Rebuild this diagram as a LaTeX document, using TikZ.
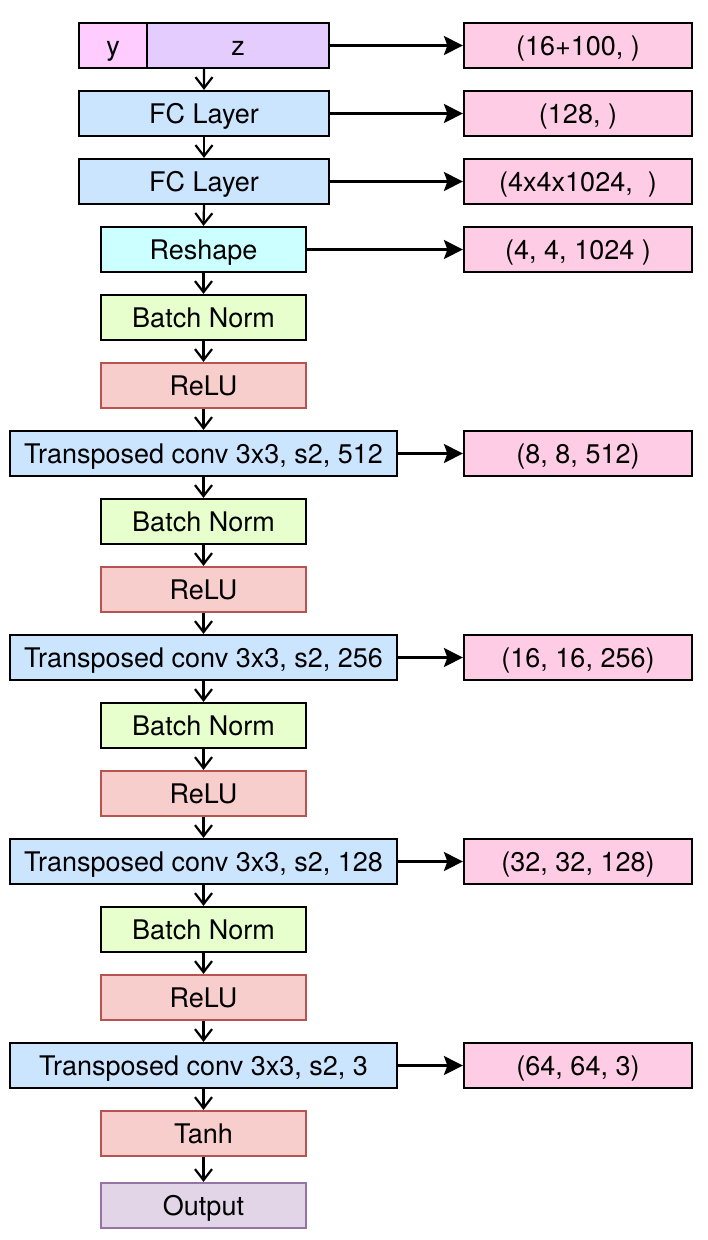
\documentclass[tikz,border=0pt]{standalone}
\usepackage{fontspec}
\setmainfont{TeX Gyre Heros}
\usetikzlibrary{arrows.meta,calc}
\definecolor{cy}{HTML}{FFCCFF}
\definecolor{cz}{HTML}{E5CCFF}
\definecolor{cout}{HTML}{FFCCE6}
\definecolor{cfc}{HTML}{CCE5FF}
\definecolor{cresh}{HTML}{CCFFFF}
\definecolor{cbn}{HTML}{E6FFCC}
\definecolor{crelu}{HTML}{F8CECC}
\definecolor{crelud}{HTML}{B85450}
\definecolor{coutp}{HTML}{E1D5E7}
\definecolor{coutpd}{HTML}{9673A6}
\tikzset{
  box/.style={draw=black,line width=2.2pt,inner sep=0pt,minimum height=45pt,text height=19.5pt,text depth=0pt,font=\fontsize{27}{30}\selectfont,text=black},
  fcbox/.style={box,fill=cfc,minimum width=250pt},
  tcbox/.style={box,fill=cfc,minimum width=387pt},
  smallbox/.style={box,minimum width=205pt},
  bnbox/.style={smallbox,fill=cbn},
  relubox/.style={smallbox,fill=crelu,draw=crelud},
  shapebox/.style={box,fill=cout,minimum width=228pt},
  down/.style={line width=2.2pt,-{Straight Barb[length=11pt,width=17pt,line width=2.2pt]}},
  side/.style={line width=2.2pt,-{Stealth[length=19pt,width=19pt,inset=3.5pt]}},
}
\begin{document}
\begin{tikzpicture}[x=1pt,y=1pt]
\useasboundingbox (0,0) rectangle (708,-1240);
% left column
\node[box,fill=cy,minimum width=68pt] (y) at (113,-45.5) {y};
\node[box,fill=cz,minimum width=182pt] (z) at (238,-45.5) {z};
\node[fcbox] (fc1) at (204,-113.5) {FC Layer};
\node[fcbox] (fc2) at (204,-181.5) {FC Layer};
\node[smallbox,fill=cresh] (resh) at (203.5,-249.5) {Reshape};
\node[bnbox] (bn1) at (203.5,-317.5) {Batch Norm};
\node[relubox] (relu1) at (203.5,-385.5) {ReLU};
\node[tcbox] (tc1) at (203.5,-453.5) {Transposed conv 3x3, s2, 512};
\node[bnbox] (bn2) at (203.5,-521.5) {Batch Norm};
\node[relubox] (relu2) at (203.5,-589.5) {ReLU};
\node[tcbox] (tc2) at (203.5,-657.5) {Transposed conv 3x3, s2, 256};
\node[bnbox] (bn3) at (203.5,-725.5) {Batch Norm};
\node[relubox] (relu3) at (203.5,-793.5) {ReLU};
\node[tcbox] (tc3) at (203.5,-861.5) {Transposed conv 3x3, s2, 128};
\node[bnbox] (bn4) at (203.5,-929.5) {Batch Norm};
\node[relubox] (relu4) at (203.5,-997.5) {ReLU};
\node[tcbox] (tc4) at (203.5,-1065.5) {Transposed conv 3x3, s2, 3};
\node[relubox] (tanh) at (203.5,-1133.5) {Tanh};
\node[smallbox,fill=coutp,draw=coutpd] (outp) at (203.5,-1205.5) {Output};
% right column
\node[shapebox] (s0) at (578,-45.5) {(16+100, )};
\node[shapebox] (s1) at (578,-113.5) {(128, )};
\node[shapebox] (s2) at (578,-181.5) {(4x4x1024,~ )};
\node[shapebox] (s3) at (578,-249.5) {(4, 4, 1024 )};
\node[shapebox] (s4) at (578,-453.5) {(8, 8, 512)};
\node[shapebox] (s5) at (578,-657.5) {(16, 16, 256)};
\node[shapebox] (s6) at (578,-861.5) {(32, 32, 128)};
\node[shapebox] (s7) at (578,-1065.5) {(64, 64, 3)};
% vertical arrows
\coordinate (yzb) at ($(y.south west)!0.5!(z.south east)$);
\draw[down] (yzb) -- (fc1.north);
\draw[down] (fc1) -- (fc2);
\draw[down] (fc2.south) -- (resh.north);
\draw[down] (resh) -- (bn1);
\draw[down] (bn1) -- (relu1);
\draw[down] (relu1) -- (tc1);
\draw[down] (tc1) -- (bn2);
\draw[down] (bn2) -- (relu2);
\draw[down] (relu2) -- (tc2);
\draw[down] (tc2) -- (bn3);
\draw[down] (bn3) -- (relu3);
\draw[down] (relu3) -- (tc3);
\draw[down] (tc3) -- (bn4);
\draw[down] (bn4) -- (relu4);
\draw[down] (relu4) -- (tc4);
\draw[down] (tc4) -- (tanh);
\draw[down] (tanh) -- (outp);
% side arrows
\draw[side] (z.east) -- (s0.west);
\draw[side] (fc1.east) -- (s1.west);
\draw[side] (fc2.east) -- (s2.west);
\draw[side] (resh.east) -- (s3.west);
\draw[side] (tc1.east) -- (s4.west);
\draw[side] (tc2.east) -- (s5.west);
\draw[side] (tc3.east) -- (s6.west);
\draw[side] (tc4.east) -- (s7.west);
\end{tikzpicture}
\end{document}
